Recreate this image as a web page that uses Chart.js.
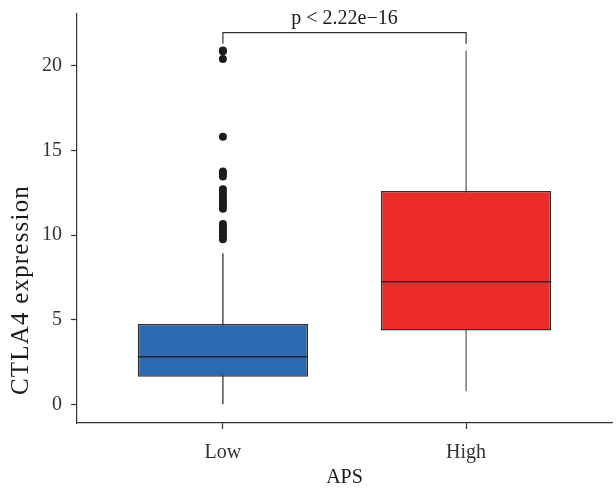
<!DOCTYPE html>
<html>
<head>
<meta charset="utf-8">
<script src="https://cdn.jsdelivr.net/npm/chart.js@4.4.1/dist/chart.umd.min.js"></script>
<style>
  html, body { margin: 0; padding: 0; background: #ffffff; }
  canvas { display: block; }
</style>
</head>
<body>
<canvas id="chart" width="616" height="489"></canvas>
<script>
// Box-plot summary of CTLA4 expression by APS group
const groups      = ['Low', 'High'];
const whiskerMin  = [0.00, 0.77];
const q1          = [1.63, 4.36];
const medians     = [2.81, 7.24];
const q3          = [4.75, 12.60];
const whiskerMax  = [8.93, 20.89];
const lowOutliers = [20.90, 20.85, 20.40, 15.80,
                     13.75, 13.60, 13.45,
                     12.70, 12.50, 12.30, 12.10, 11.90, 11.70, 11.55,
                     10.65, 10.50, 10.30, 10.15, 9.95, 9.75];
const highOutliers = [];
const yTicks      = [0, 5, 10, 15, 20];
const pLabel      = 'p < 2.22e\u221216';

// styling / geometry constants
const BOX_WIDTH   = 0.7;
const BRACKET_Y   = 21.95;
const BRACKET_TIP = 21.30;
const boxColors   = ['#2b6ab2', '#ec2b2b'];
const whiskerColors = ['#222222', '#555555'];
const AXIS_COLOR  = '#333333';
const SERIF = '"Liberation Serif", "Times New Roman", serif';

const positions = groups.map((g, i) => i + 1);

const datasets = [];

// whiskers (drawn behind the boxes)
positions.forEach((p, i) => {
  datasets.push({
    type: 'line',
    data: [{ x: p, y: whiskerMin[i] }, { x: p, y: whiskerMax[i] }],
    borderColor: whiskerColors[i],
    borderWidth: 1.2,
    pointRadius: 0,
    order: 5
  });
});

// interquartile boxes
datasets.push({
  type: 'bar',
  data: positions.map((p, i) => ({ x: p, y: [q1[i], q3[i]] })),
  backgroundColor: boxColors,
  borderColor: '#2e2e2e',
  borderWidth: 1.5,
  borderSkipped: false,
  barPercentage: BOX_WIDTH,
  categoryPercentage: 1.0,
  order: 4
});

// median lines
positions.forEach((p, i) => {
  datasets.push({
    type: 'line',
    data: [{ x: p - BOX_WIDTH / 2, y: medians[i] }, { x: p + BOX_WIDTH / 2, y: medians[i] }],
    borderColor: '#262626',
    borderWidth: 1.6,
    pointRadius: 0,
    order: 3
  });
});

// outlying points
[lowOutliers, highOutliers].forEach((vals, i) => {
  datasets.push({
    type: 'line',
    showLine: false,
    data: vals.map(v => ({ x: positions[i], y: v })),
    pointRadius: 4,
    pointBackgroundColor: '#1c1c1c',
    pointBorderWidth: 0,
    order: 2
  });
});

// significance bracket
datasets.push({
  type: 'line',
  data: [
    { x: positions[0], y: BRACKET_TIP },
    { x: positions[0], y: BRACKET_Y },
    { x: positions[1], y: BRACKET_Y },
    { x: positions[1], y: BRACKET_TIP }
  ],
  borderColor: '#333333',
  borderWidth: 1.2,
  pointRadius: 0,
  tension: 0,
  order: 1
});

const annotations = {
  id: 'annotations',
  afterDraw(chart) {
    const { ctx, scales: { x, y } } = chart;
    ctx.save();
    ctx.fillStyle = '#1a1a1a';
    ctx.font = '20px ' + SERIF;
    ctx.textAlign = 'center';
    ctx.textBaseline = 'alphabetic';
    ctx.fillText(pLabel, x.getPixelForValue((positions[0] + positions[1]) / 2),
                 y.getPixelForValue(BRACKET_Y) - 8.5);
    // y-axis title
    ctx.font = '25px ' + SERIF;
    if ('letterSpacing' in ctx) ctx.letterSpacing = '1.2px';
    ctx.translate(21, 290);
    ctx.rotate(-Math.PI / 2);
    ctx.textBaseline = 'middle';
    ctx.fillText('CTLA4 expression', 0, 0);
    ctx.restore();
  }
};

Chart.defaults.font.family = SERIF;

new Chart(document.getElementById('chart'), {
  type: 'bar',
  data: { datasets },
  plugins: [annotations],
  options: {
    responsive: false,
    animation: false,
    devicePixelRatio: 1,
    layout: { padding: { top: 14, right: 1, left: 0, bottom: 0 } },
    plugins: { legend: { display: false }, tooltip: { enabled: false } },
    scales: {
      x: {
        type: 'linear',
        min: 0.4,
        max: 2.6,
        offset: false,
        afterBuildTicks(scale) { scale.ticks = positions.map(v => ({ value: v })); },
        afterFit(scale) {
          scale.height = 66;
          scale.paddingLeft = 0;
          scale.paddingRight = 0;
        },
        ticks: {
          callback: (v) => groups[Math.round(v) - 1] ?? '',
          color: '#333333',
          font: { size: 20 },
          padding: 12,
          maxRotation: 0,
          autoSkip: false
        },
        grid: {
          display: true, offset: false, drawOnChartArea: false, drawTicks: true,
          tickLength: 6, tickWidth: 1.2, tickColor: AXIS_COLOR, color: AXIS_COLOR
        },
        border: { display: true, color: AXIS_COLOR, width: 1.2 },
        title: {
          display: true,
          text: 'APS',
          color: '#1a1a1a',
          font: { size: 20, lineHeight: 1.0 },
          padding: { top: 0, bottom: 1 }
        }
      },
      y: {
        type: 'linear',
        min: -1.1,
        max: 23.05,
        afterBuildTicks(scale) { scale.ticks = yTicks.map(v => ({ value: v })); },
        afterFit(scale) {
          scale.width = 77;
          scale.paddingTop = 0;
          scale.paddingBottom = 0;
        },
        ticks: {
          color: '#333333',
          font: { size: 20 },
          padding: 9
        },
        grid: {
          display: true, drawOnChartArea: false, drawTicks: true,
          tickLength: 6, tickWidth: 1.2, tickColor: AXIS_COLOR, color: AXIS_COLOR
        },
        border: { display: true, color: AXIS_COLOR, width: 1.2 }
      }
    }
  }
});
</script>
</body>
</html>
